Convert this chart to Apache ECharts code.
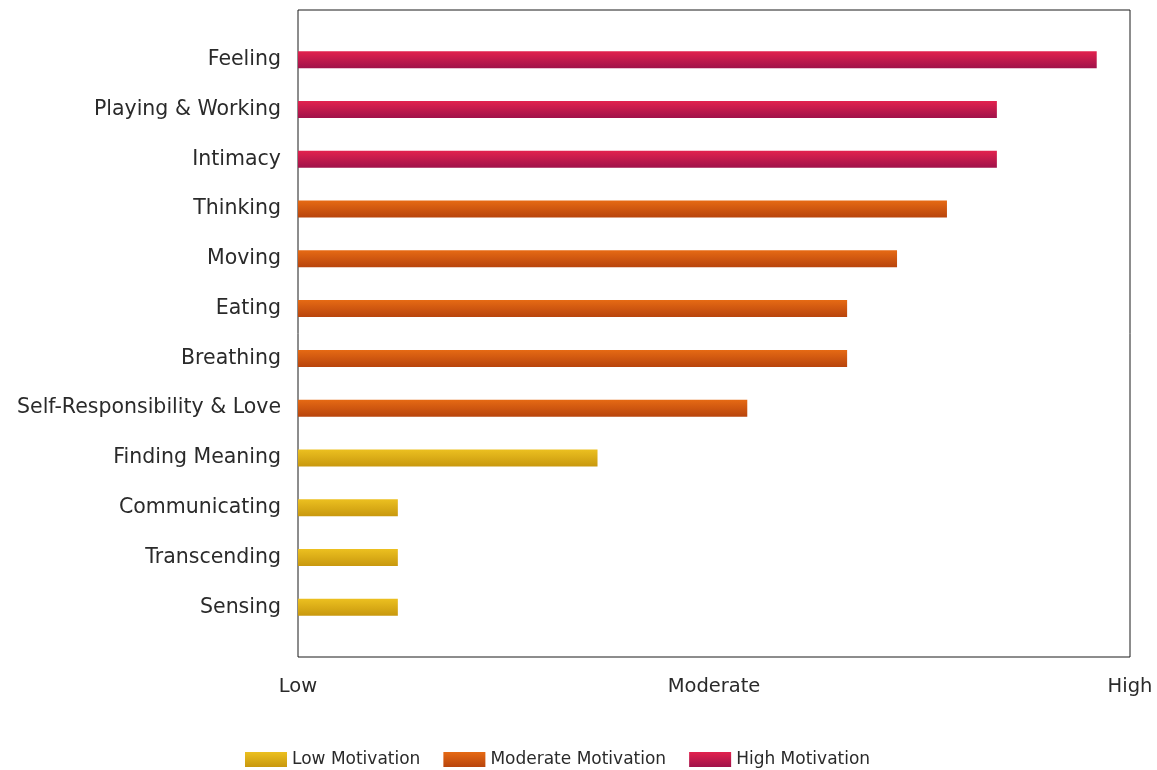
<!DOCTYPE html>
<html><head><meta charset="utf-8">
<script src="https://cdn.jsdelivr.net/npm/echarts@6/dist/echarts.min.js"></script>
<style>html,body{margin:0;padding:0;background:#fff}#c{width:1157px;height:770px}</style>
</head><body><div id="c"></div>
<script>
// Data (top to bottom as shown)
var categories = ['Feeling','Playing & Working','Intimacy','Thinking','Moving','Eating','Breathing','Self-Responsibility & Love','Finding Meaning','Communicating','Transcending','Sensing'];
var values = [48,42,42,39,36,33,33,27,18,6,6,6];
var levels = ['High','High','High','Moderate','Moderate','Moderate','Moderate','Moderate','Low','Low','Low','Low'];
var seriesNames = ['Low Motivation','Moderate Motivation','High Motivation'];
var levelKeys = ['Low','Moderate','High'];
var xTickLabels = {0:'Low',25:'Moderate',50:'High'};

var grads = {
  Low: ['#ecc020','#c8980e'],
  Moderate: ['#e66a14','#b8440c'],
  High: ['#e2224e','#a0124a']
};
function grad(k){return new echarts.graphic.LinearGradient(0,0,0,1,[{offset:0,color:grads[k][0]},{offset:1,color:grads[k][1]}]);}

var FONT = 'DejaVu Sans, Verdana, sans-serif';
// bottom-to-top axis with padding slots
var axisCats = [''].concat(categories.slice().reverse()).concat(['']);
var series = levelKeys.map(function(k,i){
  var d = axisCats.map(function(c){
    var idx = categories.indexOf(c);
    if (c === '' || idx < 0) return null;
    return levels[idx] === k ? values[idx] : null;
  });
  return {name: seriesNames[i], type:'bar', stack:'s', barWidth:17, data:d,
    itemStyle:{color:grad(k)}, silent:true};
});

var chart = echarts.init(document.getElementById('c'));
chart.setOption({
  animation:false,
  backgroundColor:'#fff',
  grid:{left:298,right:27,top:10,bottom:113,show:true,borderColor:'#1a1a1a',borderWidth:1,backgroundColor:'transparent'},
  xAxis:{type:'value',min:0,max:50,interval:25,
    axisLine:{show:false},axisTick:{show:false},splitLine:{show:false},
    axisLabel:{margin:20,fontSize:19.5,color:'#2a2a2a',fontFamily:FONT,
      formatter:function(v){return xTickLabels[v]||'';}}},
  yAxis:{type:'category',data:axisCats,boundaryGap:false,
    axisLine:{show:false},axisTick:{show:false},splitLine:{show:false},
    axisLabel:{margin:17,fontSize:20.5,color:'#2a2a2a',fontFamily:FONT}},
  legend:{top:746,left:240,itemWidth:42,itemHeight:15,itemGap:23,
    textStyle:{fontSize:17,color:'#2a2a2a',fontFamily:FONT},
    icon:'rect',data:seriesNames},
  series:series
});
</script></body></html>
